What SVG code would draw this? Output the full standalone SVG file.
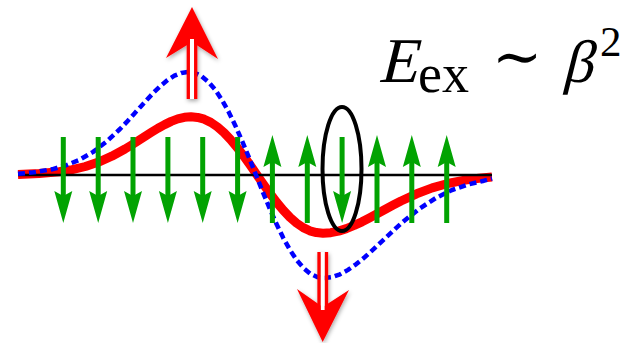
<svg xmlns="http://www.w3.org/2000/svg" width="635" height="343" viewBox="0 0 635 343">
  <style>
    .red { fill: none; stroke: #ff0000; stroke-width: 9; stroke-linejoin: round; }
    .blue { fill: none; stroke: #0000ff; stroke-width: 4.5; stroke-dasharray: 7 4; stroke-linejoin: round; }
    .axis { stroke: #000; stroke-width: 2.5; }
    .g { stroke: #02a302; stroke-width: 5; }
    .gh { fill: #02a302; }
    .bigh { fill: #ff0000; }
    .shaft { stroke: #ff0000; stroke-width: 3.3; }
    .tx { font-family: "Liberation Serif", "DejaVu Serif", serif; fill: #000; }
  </style>
  <defs>
    <filter id="sh" x="-30%" y="-30%" width="160%" height="160%">
      <feDropShadow dx="1" dy="2" stdDeviation="2" flood-color="#000" flood-opacity="0.35"/>
    </filter>
    <g id="dn">
      <line class="g" x1="0" y1="137" x2="0" y2="200"/>
      <polygon class="gh" points="-9,191 0,196 9,191 0,223"/>
    </g>
    <g id="up">
      <line class="g" x1="0" y1="160" x2="0" y2="223"/>
      <polygon class="gh" points="-9,167 0,162 9,167 0,135"/>
    </g>
  </defs>

  <g id="curves">
    <path id="red-curve" class="red" d="M18,174.5 L39.2,173.6 L59,171.8 L72.2,169.7 L85.4,166.5 L98.6,162.1 L111.8,156.2 L125,149 L131.6,145 L138.2,140.8 L144.8,136.5 L151.4,132.3 L158,128.2 L164.6,124.6 L171.2,121.4 L177.8,118.9 L184.4,117.3 L191,116.8 L197.6,117.4 L204.2,119.2 L210.8,122.4 L217.4,126.9 L224,132.6 L230.6,139.6 L237.2,147.5 L243.8,156.2 L250.4,165.45 L257,175 L263.6,184.55 L270.2,193.8 L276.8,202.5 L283.4,210.4 L290,217.4 L296.6,223.1 L303.2,227.6 L309.8,230.8 L316.4,232.6 L323,233.2 L330.8,232.7 L338.6,231.1 L346.4,228.6 L354.2,225.4 L362,221.8 L369.8,217.7 L377.6,213.5 L385.4,209.2 L393.2,205 L401,201 L416.6,193.8 L432.2,187.9 L447.8,183.5 L463.4,180.3 L479,178.2 L492,177"/>
    <line id="axis" class="axis" x1="18" y1="175" x2="492" y2="175"/>
    <path id="blue-curve" class="blue" d="M18,173.7 L31.6,172.6 L52,169.3 L65.6,165.5 L79.2,160 L92.8,152.1 L106.4,141.7 L120,129 L126.8,121.9 L133.6,114.4 L140.4,106.9 L147.2,99.4 L154,92.2 L160.8,85.7 L167.6,80.1 L174.4,75.7 L181.2,72.9 L188,71.9 L194.8,72.9 L201.6,76.2 L208.4,81.9 L215.2,89.8 L222,100 L228.8,112.2 L235.6,126.2 L242.4,141.7 L249.2,158.1 L256,175 L262.8,191.9 L269.6,208.3 L276.4,223.8 L283.2,237.8 L290,250 L296.8,260.2 L303.6,268.1 L310.4,273.8 L317.2,277.1 L324,278.1 L332,277.1 L340,274.3 L348,269.9 L356,264.3 L364,257.8 L372,250.6 L380,243.1 L388,235.6 L396,228.1 L404,221 L420,208.3 L436,197.9 L452,190 L468,184.5 L484,180.7 L492,178.5"/>
  </g>

  <g id="spins">
    <use href="#dn" x="63.3"/>
    <use href="#dn" x="98.2"/>
    <use href="#dn" x="133"/>
    <use href="#dn" x="167.9"/>
    <use href="#dn" x="202.7"/>
    <use href="#dn" x="237.6"/>
    <use href="#up" x="272.4"/>
    <use href="#up" x="307.3"/>
    <use href="#dn" x="342.1"/>
    <use href="#up" x="377"/>
    <use href="#up" x="411.8"/>
    <use href="#up" x="446.7"/>
  </g>

  <g id="circle-mark">
    <ellipse cx="342" cy="169" rx="19.5" ry="62" fill="none" stroke="#000" stroke-width="4"/>
  </g>

  <g id="big-up-arrow" filter="url(#sh)">
    <polygon class="bigh" points="192,7 218,59 192,42 166,58"/>
    <rect x="190" y="39" width="4" height="60" fill="#fff"/>
    <line class="shaft" x1="188.3" y1="39" x2="188.3" y2="99"/>
    <line class="shaft" x1="195.7" y1="39" x2="195.7" y2="99"/>
  </g>

  <g id="big-down-arrow" filter="url(#sh)">
    <polygon class="bigh" points="322.7,342 297,289 322.7,307 349,290"/>
    <rect x="320.7" y="252" width="4" height="58" fill="#fff"/>
    <line class="shaft" x1="319" y1="252" x2="319" y2="310"/>
    <line class="shaft" x1="326.5" y1="252" x2="326.5" y2="310"/>
  </g>

  <g id="formula">
    <g transform="translate(378,82) skewX(-14)"><text class="tx" x="0" y="0" font-size="64">E</text></g>
    <text class="tx" x="418" y="92" font-size="54">ex</text>
    <text x="492" y="77" font-size="60" style="font-family: 'DejaVu Serif', serif;">∼</text>
    <g transform="translate(562,82) skewX(-14)"><text class="tx" x="0" y="0" font-size="60">β</text></g>
    <text class="tx" x="600" y="56" font-size="43">2</text>
  </g>
</svg>
